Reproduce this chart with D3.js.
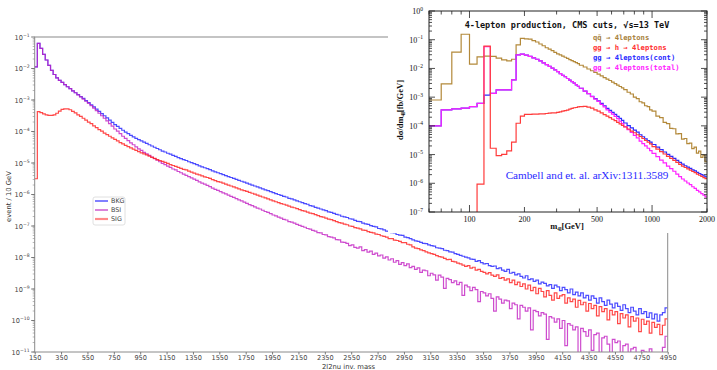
<!DOCTYPE html>
<html>
<head>
<meta charset="utf-8">
<script src="https://cdn.jsdelivr.net/npm/d3@7/dist/d3.min.js"></script>
<style>
  body { margin: 0; background: #fff; }
  svg { display: block; }
</style>
</head>
<body>
<svg id="chart" width="717" height="370"></svg>
<script>
// ---- main plot: 20 GeV bins from 150 GeV, values read as log10(event / 10 GeV)
var binStart = 150, binWidth = 20;

var bkgExp = [-1.95, -1.20, -1.36, -1.55, -1.73, -1.90, -2.06, -2.19, -2.30, -2.38, -2.44, -2.51, -2.58, -2.64, -2.71, -2.77,
  -2.83, -2.89, -2.95, -3.02, -3.08, -3.15, -3.22, -3.29, -3.36, -3.43, -3.50, -3.57, -3.64, -3.71, -3.78, -3.84, -3.90, -3.96, -4.02, -4.07,
  -4.12, -4.17, -4.22, -4.26, -4.30, -4.34, -4.38, -4.42, -4.46, -4.50, -4.54, -4.58, -4.62, -4.65, -4.69, -4.72, -4.76, -4.79, -4.83, -4.86,
  -4.89, -4.92, -4.96, -4.99, -5.02, -5.05, -5.09, -5.12, -5.15, -5.18, -5.21, -5.25, -5.28, -5.31, -5.34, -5.37, -5.40, -5.43, -5.46, -5.49,
  -5.52, -5.55, -5.58, -5.61, -5.64, -5.67, -5.70, -5.73, -5.76, -5.79, -5.82, -5.85, -5.88, -5.91, -5.94, -5.97, -6.00,
  -6.03, -6.06, -6.08, -6.12, -6.14, -6.17, -6.20, -6.23, -6.26, -6.29, -6.31, -6.35, -6.37, -6.41, -6.43, -6.46, -6.49, -6.51, -6.55, -6.57,
  -6.60, -6.63, -6.65, -6.69, -6.71, -6.73, -6.77, -6.78, -6.82, -6.85, -6.86, -6.91, -6.93, -6.95, -6.99, -7.01, -7.03, -7.08, -7.09, -7.12,
  -7.16, -7.17, -7.21, -7.22, -7.27, -7.29, -7.30, -7.35, -7.37, -7.40,
  -7.44, -7.47, -7.49, -7.52, -7.55, -7.56, -7.60, -7.62, -7.64, -7.69, -7.70, -7.72, -7.77, -7.78, -7.82, -7.83, -7.88, -7.90, -7.93, -7.96,
  -7.99, -8.01, -8.05, -8.06, -8.12, -8.10, -8.16, -8.20, -8.19, -8.26, -8.28, -8.27, -8.35, -8.33, -8.40, -8.44, -8.38, -8.50, -8.47, -8.55,
  -8.52, -8.60, -8.65, -8.58, -8.70, -8.68, -8.76, -8.72, -8.84, -8.78, -8.82, -8.90, -8.86, -8.98, -8.88, -8.93, -9.05, -8.95, -9.02, -9.12,
  -9.00, -9.18, -9.10, -9.22, -9.12, -9.28, -9.20, -9.35, -9.22, -9.30, -9.45, -9.28, -9.40, -9.52, -9.35, -9.48, -9.60, -9.45, -9.55, -9.68,
  -9.50, -9.62, -9.75, -9.58, -9.70, -9.82, -9.62, -9.78, -9.72, -9.90, -9.76, -9.95, -9.80, -10.02, -9.82, -9.75, -9.60];

var bsiExp = [-1.95, -1.20, -1.36, -1.55, -1.73, -1.90, -2.06, -2.19, -2.30, -2.38, -2.44, -2.51, -2.58, -2.64, -2.71, -2.77,
  -2.84, -2.90, -2.97, -3.04, -3.11, -3.18, -3.26, -3.34, -3.42, -3.50, -3.58, -3.66, -3.75, -3.83, -3.92, -3.99, -4.07, -4.15, -4.22, -4.29,
  -4.36, -4.42, -4.49, -4.55, -4.60, -4.66, -4.71, -4.76, -4.81, -4.86, -4.91, -4.96, -5.01, -5.05, -5.10, -5.14, -5.19, -5.22, -5.27, -5.31,
  -5.35, -5.39, -5.43, -5.47, -5.51, -5.55, -5.60, -5.64, -5.67, -5.71, -5.75, -5.80, -5.84, -5.87, -5.91, -5.95, -5.98, -6.02, -6.06, -6.09,
  -6.13, -6.17, -6.20, -6.24, -6.28, -6.32, -6.35, -6.39, -6.43, -6.46, -6.50, -6.54, -6.57, -6.61, -6.65, -6.68, -6.72,
  -6.75, -6.79, -6.81, -6.86, -6.88, -6.91, -6.95, -6.98, -7.01, -7.04, -7.08, -7.10, -7.14, -7.16, -7.21, -7.22, -7.27, -7.28, -7.34, -7.35,
  -7.38, -7.43, -7.44, -7.51, -7.52, -7.55, -7.62, -7.60, -7.68, -7.70, -7.66, -7.78, -7.75, -7.83, -7.80, -7.90, -7.86, -7.95, -7.92, -8.02,
  -7.98, -8.08, -8.04, -8.15, -8.10, -8.22, -8.16, -8.26, -8.20, -8.32,
  -8.28, -8.38, -8.33, -8.47, -8.40, -8.42, -8.58, -8.50, -8.55, -8.72, -8.56, -8.62, -8.98, -8.66, -8.70, -8.80, -8.74, -8.86, -8.79, -9.20,
  -8.88, -8.93, -9.05, -8.95, -9.02, -9.40, -9.08, -9.12, -9.22, -9.15, -9.30, -9.70, -9.25, -9.32, -9.45, -9.35, -9.38, -9.62, -9.45, -9.50,
  -9.95, -9.52, -9.58, -9.70, -9.60, -10.30, -9.68, -9.72, -9.85, -9.75, -9.80, -10.60, -9.88, -9.92, -10.05, -9.95, -10.25, -10.00, -10.80, -10.10,
  -10.15, -10.30, -10.20, -11.3, -10.25, -10.35, -10.50, -10.30, -10.95, -10.45, -10.40, -11.3, -10.55, -10.50, -10.75, -11.3, -10.60, -10.70, -10.65, -11.3,
  -10.80, -10.75, -11.3, -10.90, -10.85, -11.3, -11.3, -10.95, -11.00, -11.3, -10.90, -11.15, -11.3, -11.05, -11.3, -10.85, -10.50];

var sigExp = [-5.50, -3.37, -3.40, -3.44, -3.47, -3.49, -3.49, -3.47, -3.42, -3.35, -3.30, -3.28, -3.28, -3.31, -3.36, -3.41,
  -3.47, -3.52, -3.58, -3.64, -3.70, -3.75, -3.82, -3.88, -3.94, -3.99, -4.05, -4.10, -4.15, -4.20, -4.25, -4.30, -4.35, -4.39, -4.44, -4.48,
  -4.52, -4.56, -4.60, -4.64, -4.68, -4.71, -4.74, -4.78, -4.82, -4.85, -4.89, -4.92, -4.95, -4.98, -5.01, -5.05, -5.08, -5.11, -5.14, -5.17,
  -5.20, -5.22, -5.26, -5.29, -5.32, -5.35, -5.38, -5.41, -5.44, -5.46, -5.49, -5.53, -5.56, -5.59, -5.61, -5.64, -5.67, -5.70, -5.73, -5.76,
  -5.79, -5.82, -5.85, -5.88, -5.90, -5.93, -5.96, -5.99, -6.02, -6.05, -6.08, -6.11, -6.14, -6.17, -6.20, -6.23, -6.26,
  -6.29, -6.31, -6.34, -6.37, -6.40, -6.42, -6.45, -6.48, -6.51, -6.53, -6.56, -6.59, -6.61, -6.64, -6.67, -6.70, -6.72, -6.75, -6.78, -6.80,
  -6.83, -6.86, -6.89, -6.91, -6.94, -6.96, -7.00, -7.01, -7.05, -7.07, -7.09, -7.13, -7.14, -7.18, -7.20, -7.22, -7.26, -7.27, -7.31, -7.33,
  -7.35, -7.40, -7.40, -7.45, -7.46, -7.49, -7.53, -7.53, -7.58, -7.60,
  -7.66, -7.70, -7.72, -7.76, -7.78, -7.82, -7.85, -7.88, -7.90, -7.94, -7.97, -7.99, -8.03, -8.07, -8.06, -8.12, -8.14, -8.18, -8.20, -8.24,
  -8.28, -8.26, -8.34, -8.31, -8.40, -8.38, -8.44, -8.47, -8.52, -8.48, -8.56, -8.60, -8.55, -8.66, -8.64, -8.72, -8.68, -8.80, -8.72, -8.86,
  -8.78, -8.92, -8.84, -9.00, -8.88, -9.05, -8.95, -9.15, -8.98, -9.08, -9.25, -9.05, -9.20, -9.35, -9.12, -9.30, -9.22, -9.18, -9.45, -9.28,
  -9.40, -9.32, -9.58, -9.36, -9.50, -9.42, -9.70, -9.46, -9.62, -9.52, -9.85, -9.56, -9.72, -9.62, -9.98, -9.68, -9.82, -9.72, -10.10, -9.78,
  -9.92, -9.82, -10.20, -9.88, -10.02, -9.92, -10.35, -9.96, -10.12, -10.02, -10.40, -10.06, -10.22, -10.12, -10.45, -10.15, -9.95];

var xTickLabels = [150, 350, 550, 750, 950, 1150, 1350, 1550, 1750, 1950, 2150, 2350, 2550, 2750, 2950,
  3150, 3350, 3550, 3750, 3950, 4150, 4350, 4550, 4750, 4950];
var yTickExps = [-1, -2, -3, -4, -5, -6, -7, -8, -9, -10, -11];
var legendNames = ["BKG", "BSI", "SIG"];

// ---- inset (4-lepton production): bin edges in GeV, values as log10(fb/GeV); null = empty bin
var insetEdges = [60, 70, 80, 90, 100, 110, 120, 130, 140, 150, 160, 170, 180, 190, 200,
  210, 220, 230, 240, 250, 260, 270, 280, 290, 300, 310, 320, 330, 340, 350, 360, 370, 380, 390, 400,
  420, 440, 460, 480, 500, 520, 540, 560, 580, 600, 620, 640, 660, 680, 700,
  730, 760, 790, 820, 850, 880, 910, 940, 970, 1000,
  1050, 1100, 1150, 1200, 1250, 1300, 1350, 1400, 1450, 1500, 1550, 1600, 1650, 1700, 1750, 1800, 1850, 1900, 1950, 2000];

var qqExp = [-3.10, -2.54, -1.43, -0.81, -1.85, -1.60, -1.57, -1.58, -1.64, -1.70, -1.74, -1.68, -1.18, -0.95,
  -0.97, -0.98, -1.03, -1.08, -1.15, -1.21, -1.28, -1.33, -1.38, -1.44, -1.49, -1.53, -1.57, -1.61, -1.65, -1.69, -1.73, -1.76, -1.80, -1.83,
  -1.89, -1.95, -2.02, -2.08, -2.14, -2.20, -2.26, -2.32, -2.37, -2.42, -2.48, -2.53, -2.58, -2.63, -2.68,
  -2.74, -2.83, -2.89, -3.00, -3.05, -3.16, -3.20, -3.30, -3.33, -3.44,
  -3.49, -3.66, -3.71, -3.88, -3.92, -4.09, -4.10, -4.28, -4.27, -4.46, -4.44, -4.62, -4.60, -4.79, -4.74, -4.95, -4.88, -5.10, -5.02, -5.25];

var hExp = [null, null, null, null, null, -6.03, -1.22, -4.78, -5.04, -4.99, -4.87, -4.57, -3.91, -3.66,
  -3.60, -3.60, -3.59, -3.59, -3.58, -3.58, -3.57, -3.56, -3.55, -3.55, -3.53, -3.51, -3.49, -3.47, -3.45, -3.42, -3.39, -3.37, -3.36, -3.34,
  -3.33, -3.32, -3.35, -3.38, -3.44, -3.49, -3.55, -3.61, -3.66, -3.71, -3.77, -3.82, -3.88, -3.93, -3.98,
  -4.04, -4.11, -4.18, -4.24, -4.31, -4.37, -4.44, -4.51, -4.57, -4.63,
  -4.72, -4.81, -4.90, -4.98, -5.06, -5.13, -5.20, -5.27, -5.34, -5.40, -5.45, -5.50, -5.54, -5.59, -5.63, -5.68, -5.72, -5.76, -5.80, -5.84];

var contExp = [-4.00, -3.44, -3.41, -3.38, -3.33, -3.22, -2.93, -2.87, -2.75, -2.75, -2.75, -2.40, -1.53, -1.50,
  -1.54, -1.58, -1.63, -1.68, -1.74, -1.81, -1.87, -1.93, -1.99, -2.05, -2.11, -2.18, -2.24, -2.29, -2.35, -2.41, -2.46, -2.51, -2.57, -2.62,
  -2.69, -2.79, -2.88, -2.97, -3.05, -3.13, -3.22, -3.30, -3.39, -3.46, -3.53, -3.60, -3.67, -3.74, -3.81,
  -3.90, -3.99, -4.07, -4.15, -4.22, -4.31, -4.38, -4.45, -4.51, -4.57,
  -4.65, -4.74, -4.83, -4.91, -4.99, -5.06, -5.13, -5.20, -5.27, -5.33, -5.39, -5.44, -5.48, -5.53, -5.57, -5.62, -5.66, -5.70, -5.74, -5.78];

var totalExp = [-4.00, -3.44, -3.41, -3.38, -3.33, -3.22, -1.24, -2.87, -2.75, -2.75, -2.75, -2.40, -1.53, -1.50,
  -1.54, -1.58, -1.63, -1.68, -1.74, -1.81, -1.87, -1.93, -1.99, -2.05, -2.11, -2.18, -2.24, -2.29, -2.35, -2.41, -2.46, -2.51, -2.57, -2.62,
  -2.69, -2.79, -2.88, -2.98, -3.07, -3.15, -3.25, -3.34, -3.44, -3.52, -3.59, -3.67, -3.75, -3.84, -3.92,
  -4.03, -4.13, -4.23, -4.33, -4.42, -4.53, -4.62, -4.70, -4.78, -4.86,
  -4.96, -5.07, -5.19, -5.29, -5.40, -5.49, -5.58, -5.68, -5.77, -5.85, -5.92, -5.99, -6.05, -6.12, -6.18, -6.25, -6.30, -6.36, -6.41, -6.47];

var insetXTicks = [100, 200, 500, 1000, 2000];
var insetYExps = [0, -1, -2, -3, -4, -5, -6, -7];
var insetLegend = ["qq\u0304 \u2192 4leptons", "gg \u2192 h \u2192 4leptons", "gg \u2192 4leptons(cont)", "gg \u2192 4leptons(total)"];

build();

function build() {
  var svg = d3.select("#chart");
  var margin = { top: 37, right: 49.3, bottom: 18, left: 34.7 },
    width = 717 - margin.left - margin.right,
    height = 370 - margin.top - margin.bottom;

  var x = d3.scaleLinear().domain([150, 4950]).range([0, width]);
  var y = d3.scaleLog().domain([1e-11, 1e-1]).range([height, 0]);

  var g = svg.append("g").attr("transform", "translate(" + margin.left + "," + margin.top + ")");

  g.append("clipPath").attr("id", "mainClip")
    .append("rect").attr("width", width).attr("height", height);

  // histograms as step lines
  var step = d3.line()
    .x(function (d) { return x(d[0]); })
    .y(function (d) { return y(Math.pow(10, d[1])); })
    .curve(d3.curveStepAfter);

  function toSteps(exps) {
    var pts = exps.map(function (e, i) { return [binStart + i * binWidth, e]; });
    pts.push([binStart + exps.length * binWidth, exps[exps.length - 1]]);
    return pts;
  }

  var series = [
    { name: "BKG", exps: bkgExp, color: "#1f1fff" },
    { name: "BSI", exps: bsiExp, color: "#c21fc2" },
    { name: "SIG", exps: sigExp, color: "#ff1a1a" }
  ];

  g.append("g").attr("clip-path", "url(#mainClip)")
    .selectAll("path").data(series).enter().append("path")
    .attr("d", function (d) { return step(toSteps(d.exps)); })
    .attr("fill", "none")
    .attr("stroke", function (d) { return d.color; })
    .attr("stroke-opacity", 0.8)
    .attr("stroke-width", 1.2);

  // spines
  g.append("rect").attr("width", width).attr("height", height)
    .attr("fill", "none").attr("stroke", "#8a8a8a").attr("stroke-width", 1);

  // x axis
  var xAxis = g.append("g").attr("transform", "translate(0," + height + ")")
    .call(d3.axisBottom(x).tickValues(xTickLabels).tickSize(2.5).tickPadding(1).tickFormat(d3.format("d")));
  xAxis.select(".domain").remove();
  xAxis.selectAll("line").attr("stroke", "#777");
  xAxis.selectAll("text").attr("font-family", "DejaVu Sans").attr("font-size", 6.6).attr("fill", "#444");

  // y axis (major + minor ticks)
  var minor = [];
  yTickExps.forEach(function (p) {
    if (p > -11) for (var k = 1; k < 10; k++) minor.push(k * Math.pow(10, p - 1));
  });
  g.append("g").selectAll("line").data(minor).enter().append("line")
    .attr("x1", -2).attr("x2", 0)
    .attr("y1", function (d) { return y(d); }).attr("y2", function (d) { return y(d); })
    .attr("stroke", "#888").attr("stroke-width", 0.6);
  g.append("g").selectAll("line").data(yTickExps).enter().append("line")
    .attr("x1", -3.5).attr("x2", 0)
    .attr("y1", function (d) { return y(Math.pow(10, d)); }).attr("y2", function (d) { return y(Math.pow(10, d)); })
    .attr("stroke", "#777");
  var yl = g.append("g").selectAll("text").data(yTickExps).enter().append("text")
    .attr("x", -5).attr("y", function (d) { return y(Math.pow(10, d)) + 2.5; })
    .attr("text-anchor", "end")
    .attr("font-family", "DejaVu Sans").attr("font-size", 6.6).attr("fill", "#444");
  yl.append("tspan").text("10");
  yl.append("tspan").attr("dy", -3).attr("font-size", 4.6).text(function (d) { return "\u2212" + (-d); });

  // axis labels
  svg.append("text")
    .attr("transform", "translate(11," + (margin.top + height / 2 + 2) + ") rotate(-90)")
    .attr("text-anchor", "middle")
    .attr("font-family", "DejaVu Sans").attr("font-size", 6.8).attr("fill", "#333")
    .text("event / 10 GeV");
  svg.append("text")
    .attr("x", margin.left + x(2530)).attr("y", 369)
    .attr("text-anchor", "middle")
    .attr("font-family", "DejaVu Sans").attr("font-size", 6.8).attr("fill", "#333")
    .text("2l2nu inv. mass");

  // legend
  var lg = svg.append("g").attr("transform", "translate(93,197)");
  lg.append("rect").attr("width", 32).attr("height", 28).attr("rx", 2)
    .attr("fill", "#fff").attr("stroke", "#d8d8d8").attr("stroke-width", 0.8);
  var legendColors = ["#3b3bff", "#c640c6", "#ff8a8a"];
  var items = lg.selectAll("g").data(legendNames).enter().append("g")
    .attr("transform", function (d, i) { return "translate(0," + (4 + i * 9) + ")"; });
  items.append("line").attr("x1", 2).attr("x2", 15).attr("y1", 0).attr("y2", 0)
    .attr("stroke", function (d, i) { return legendColors[i]; })
    .attr("stroke-width", function (d, i) { return i == 2 ? 2.2 : 1.3; });
  items.append("text").attr("x", 18).attr("y", 2.4)
    .attr("font-family", "DejaVu Sans").attr("font-size", 6.4).attr("fill", "#444")
    .text(function (d) { return d; });

  drawInset(svg);
}

function drawInset(svg) {
  var ins = svg.append("g");
  ins.append("rect").attr("x", 388).attr("y", 0).attr("width", 329).attr("height", 233).attr("fill", "#fff");

  var left = 429, right = 707, top = 11, bottom = 212;
  var xi = d3.scaleLog().domain([60, 2000]).range([left, right]);
  var yi = d3.scaleLog().domain([1e-7, 1]).range([bottom, top]);

  ins.append("clipPath").attr("id", "insetClip")
    .append("rect").attr("x", left).attr("y", top).attr("width", right - left).attr("height", bottom - top);

  var line = d3.line()
    .x(function (d) { return xi(d[0]); })
    .y(function (d) { return d[1] === null ? bottom + 20 : yi(Math.pow(10, d[1])); })
    .curve(d3.curveStepAfter);

  function toSteps(exps) {
    var pts = exps.map(function (e, i) { return [insetEdges[i], e]; });
    pts.push([insetEdges[exps.length], exps[exps.length - 1]]);
    return pts;
  }

  var sets = [
    { exps: qqExp, color: "#b3893a" },
    { exps: contExp, color: "#2b2bff" },
    { exps: totalExp, color: "#ff22ff" },
    { exps: hExp, color: "#ff3b3b" }
  ];
  ins.append("g").attr("clip-path", "url(#insetClip)")
    .selectAll("path").data(sets).enter().append("path")
    .attr("d", function (d) { return line(toSteps(d.exps)); })
    .attr("fill", "none")
    .attr("stroke", function (d) { return d.color; })
    .attr("stroke-width", 1.2);

  // frame + inward ticks on all four sides
  ins.append("rect").attr("x", left).attr("y", top).attr("width", right - left).attr("height", bottom - top)
    .attr("fill", "none").attr("stroke", "#222").attr("stroke-width", 1);

  var yt = [];
  insetYExps.forEach(function (p) {
    yt.push({ v: Math.pow(10, p), len: 6 });
    if (p > -7) for (var k = 2; k < 10; k++) yt.push({ v: k * Math.pow(10, p - 1), len: 3 });
  });
  var tk = ins.append("g").attr("stroke", "#222").attr("stroke-width", 0.8);
  yt.forEach(function (t) {
    var yy = yi(t.v);
    tk.append("line").attr("x1", left).attr("x2", left + t.len).attr("y1", yy).attr("y2", yy);
    tk.append("line").attr("x1", right).attr("x2", right - t.len).attr("y1", yy).attr("y2", yy);
  });
  var xt = [60, 70, 80, 90, 100, 200, 300, 400, 500, 600, 700, 800, 900, 1000, 2000];
  xt.forEach(function (v) {
    var len = (v == 100 || v == 1000) ? 7 : (v == 200 || v == 500) ? 5 : 3.5;
    var xx = xi(v);
    tk.append("line").attr("x1", xx).attr("x2", xx).attr("y1", bottom).attr("y2", bottom - len);
    tk.append("line").attr("x1", xx).attr("x2", xx).attr("y1", top).attr("y2", top + len);
  });

  // tick labels
  ins.append("g").selectAll("text").data(insetXTicks).enter().append("text")
    .attr("x", function (d) { return xi(d); }).attr("y", 221.5)
    .attr("text-anchor", "middle")
    .attr("font-family", "Liberation Serif").attr("font-size", 8).attr("fill", "#111")
    .text(function (d) { return d; });
  var ylab = ins.append("g").selectAll("text").data(insetYExps).enter().append("text")
    .attr("x", 423).attr("y", function (d) { return yi(Math.pow(10, d)) + 3; })
    .attr("text-anchor", "end")
    .attr("font-family", "Liberation Serif").attr("font-size", 8).attr("fill", "#111");
  ylab.append("tspan").text("10");
  ylab.append("tspan").attr("dy", -3.5).attr("font-size", 5.5).text(function (d) { return d == 0 ? "0" : "\u2212" + (-d); });

  // axis titles
  var xl = ins.append("text").attr("x", 567).attr("y", 229)
    .attr("text-anchor", "middle")
    .attr("font-family", "Liberation Serif").attr("font-weight", "bold").attr("font-size", 8.5).attr("fill", "#111");
  xl.append("tspan").text("m");
  xl.append("tspan").attr("dy", 2).attr("font-size", 5.5).text("4l");
  xl.append("tspan").attr("dy", -2).text("[GeV]");

  var ylT = ins.append("text")
    .attr("transform", "translate(403,110) rotate(-90)")
    .attr("text-anchor", "middle")
    .attr("font-family", "Liberation Serif").attr("font-weight", "bold").attr("font-size", 8.5).attr("fill", "#111");
  ylT.append("tspan").text("d\u03c3/dm");
  ylT.append("tspan").attr("dy", 2).attr("font-size", 5.5).text("4l");
  ylT.append("tspan").attr("dy", -2).text("[fb/GeV]");

  // title and legend
  ins.append("text").attr("x", 567).attr("y", 28)
    .attr("text-anchor", "middle")
    .attr("font-family", "DejaVu Sans Mono").attr("font-weight", "bold").attr("font-size", 8.5).attr("fill", "#111")
    .text("4-lepton production, CMS cuts, \u221as=13 TeV");

  var legendColors = ["#a8823c", "#ff3030", "#2a2aff", "#ff22ff"];
  ins.append("g").selectAll("text").data(insetLegend).enter().append("text")
    .attr("x", 593).attr("y", function (d, i) { return 39.5 + i * 10.3; })
    .attr("font-family", "DejaVu Sans Mono").attr("font-weight", "bold").attr("font-size", 7.2)
    .attr("fill", function (d, i) { return legendColors[i]; })
    .text(function (d) { return d; });

  ins.append("text").attr("x", 587).attr("y", 179)
    .attr("text-anchor", "middle")
    .attr("font-family", "Liberation Serif").attr("font-size", 11.2).attr("fill", "#2a2aff")
    .text("Cambell and et. al. arXiv:1311.3589");
}
</script>
</body>
</html>
